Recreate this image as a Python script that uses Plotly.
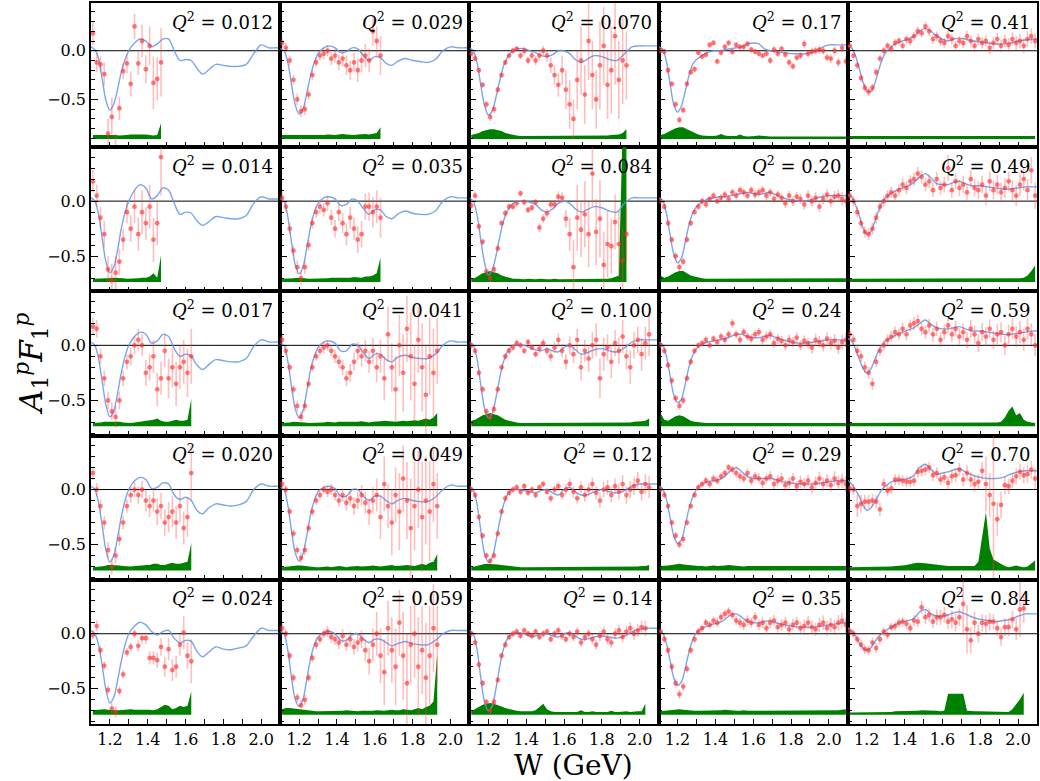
import plotly.graph_objects as go
from plotly.subplots import make_subplots

# ---------------- data ----------------
W_BINS = [1.11, 1.13, 1.15, 1.17, 1.19, 1.21, 1.23, 1.25, 1.27, 1.29,
          1.31, 1.33, 1.35, 1.37, 1.39, 1.41, 1.43, 1.45, 1.47, 1.49,
          1.51, 1.53, 1.55, 1.57, 1.59, 1.61, 1.63, 1.65, 1.67, 1.69,
          1.71, 1.73, 1.75, 1.77, 1.79, 1.81, 1.83, 1.85, 1.87, 1.89,
          1.91, 1.93, 1.95, 1.97, 1.99, 2.01, 2.03, 2.05, 2.07, 2.09]

CURVE_W = [1.10, 1.12, 1.14, 1.16, 1.18, 1.20, 1.22, 1.24, 1.26, 1.28,
           1.30, 1.33, 1.36, 1.39, 1.42, 1.45, 1.48, 1.51, 1.54, 1.57,
           1.60, 1.63, 1.66, 1.69, 1.72, 1.76, 1.80, 1.84, 1.88, 1.92,
           1.96, 2.00, 2.04, 2.08, 2.10]

# ---- Q2 = 0.012 ----
A_0012 = [0.18, -0.12, -0.14, -0.24, -0.85, -0.68, -1.05, -0.59, -0.21, -0.13, -0.34, 0.25, -0.13, 0.10, -0.19, 0.05, -0.33, -0.29, -0.12]
E_0012 = [0.12, 0.1, 0.08, 0.12, 0.15, 0.2, 0.2, 0.12, 0.08, 0.1, 0.13, 0.13, 0.12, 0.17, 0.14, 0.2, 0.27, 0.22, 0.35]
S_0012 = [0.04, 0.04, 0.04, 0.04, 0.045, 0.04, 0.04, 0.035, 0.035, 0.04, 0.045, 0.045, 0.05, 0.05, 0.045, 0.04, 0.035, 0.04, 0.16]
M_0012 = [0.04, 0.01, -0.08, -0.3, -0.52, -0.61, -0.55, -0.4, -0.22, -0.09, 0.0, 0.08, 0.12, 0.1, 0.04, 0.07, 0.12, 0.12, 0.0, -0.1, -0.09, -0.1, -0.18, -0.24, -0.2, -0.14, -0.15, -0.16, -0.16, -0.14, -0.03, 0.06, 0.03, 0.03, 0.03]

# ---- Q2 = 0.014 ----
A_0014 = [0.18, 0.05, -0.15, -0.3, -0.62, -0.72, -0.65, -0.55, -0.35, -0.1, -0.25, -0.05, -0.3, -0.1, -0.2, -0.05, -0.35, -0.2, 0.40]
E_0014 = [0.1, 0.1, 0.1, 0.12, 0.12, 0.15, 0.15, 0.12, 0.1, 0.1, 0.12, 0.15, 0.15, 0.2, 0.15, 0.2, 0.2, 0.2, 0.35]
S_0014 = [0.03, 0.03, 0.03, 0.035, 0.035, 0.04, 0.04, 0.04, 0.035, 0.03, 0.03, 0.035, 0.035, 0.04, 0.04, 0.05, 0.08, 0.04, 0.24]
M_0014 = [0.03, 0.0, -0.12, -0.35, -0.56, -0.65, -0.6, -0.45, -0.25, -0.1, 0.0, 0.1, 0.15, 0.12, 0.02, 0.05, 0.12, 0.1, -0.02, -0.12, -0.1, -0.11, -0.18, -0.22, -0.19, -0.14, -0.15, -0.16, -0.16, -0.13, -0.02, 0.04, 0.02, 0.02, 0.02]

# ---- Q2 = 0.017 ----
A_0017 = [0.17, 0.15, -0.1, -0.3, -0.5, -0.6, -0.65, -0.5, -0.3, -0.15, -0.1, 0.0, 0.05, 0.0, -0.25, -0.2, -0.1, -0.4, -0.3, -0.05, -0.3, -0.2, -0.35, -0.2, -0.15, -0.25, -0.1]
E_0017 = [0.08, 0.08, 0.07, 0.07, 0.08, 0.08, 0.1, 0.08, 0.07, 0.07, 0.08, 0.08, 0.1, 0.1, 0.12, 0.12, 0.15, 0.15, 0.15, 0.15, 0.18, 0.18, 0.2, 0.2, 0.2, 0.22, 0.25]
S_0017 = [0.03, 0.03, 0.035, 0.04, 0.04, 0.045, 0.045, 0.04, 0.035, 0.03, 0.03, 0.035, 0.04, 0.04, 0.045, 0.05, 0.06, 0.07, 0.05, 0.04, 0.04, 0.05, 0.06, 0.05, 0.05, 0.06, 0.25]
M_0017 = [0.03, 0.0, -0.12, -0.34, -0.55, -0.65, -0.6, -0.44, -0.25, -0.1, 0.0, 0.08, 0.12, 0.1, 0.02, 0.04, 0.1, 0.08, -0.03, -0.1, -0.08, -0.1, -0.18, -0.22, -0.18, -0.13, -0.14, -0.15, -0.15, -0.12, -0.01, 0.05, 0.03, 0.03, 0.03]

# ---- Q2 = 0.020 ----
A_0020 = [0.15, 0.0, -0.15, -0.3, -0.55, -0.7, -0.6, -0.45, -0.3, -0.15, -0.05, 0.0, -0.05, 0.0, -0.1, -0.15, -0.1, -0.2, -0.15, -0.3, -0.25, -0.2, -0.3, -0.15, -0.35, -0.25, 0.15]
E_0020 = [0.06, 0.06, 0.06, 0.06, 0.07, 0.07, 0.07, 0.06, 0.06, 0.06, 0.07, 0.07, 0.08, 0.08, 0.1, 0.1, 0.1, 0.12, 0.12, 0.12, 0.14, 0.14, 0.15, 0.15, 0.15, 0.18, 0.25]
S_0020 = [0.03, 0.03, 0.035, 0.04, 0.05, 0.05, 0.05, 0.045, 0.04, 0.035, 0.035, 0.04, 0.04, 0.045, 0.05, 0.05, 0.06, 0.06, 0.05, 0.05, 0.06, 0.07, 0.06, 0.06, 0.07, 0.08, 0.25]
M_0020 = [0.03, 0.0, -0.12, -0.34, -0.56, -0.66, -0.6, -0.44, -0.25, -0.1, 0.0, 0.08, 0.11, 0.09, 0.01, 0.02, 0.06, 0.05, -0.05, -0.09, -0.07, -0.1, -0.19, -0.22, -0.17, -0.13, -0.14, -0.15, -0.14, -0.11, 0.0, 0.05, 0.03, 0.03, 0.03]

# ---- Q2 = 0.024 ----
A_0024 = [-0.01, 0.07, -0.15, -0.29, -0.51, -0.68, -0.71, -0.52, -0.37, -0.17, -0.12, 0.0, -0.11, -0.04, -0.04, -0.22, -0.22, -0.24, -0.12, -0.30, -0.14, -0.33, -0.30, -0.10, 0.01, -0.20, -0.25]
E_0024 = [0.04, 0.05, 0.04, 0.04, 0.04, 0.05, 0.05, 0.04, 0.04, 0.04, 0.04, 0.04, 0.05, 0.05, 0.05, 0.06, 0.06, 0.07, 0.08, 0.09, 0.1, 0.1, 0.1, 0.1, 0.15, 0.12, 0.2]
S_0024 = [0.04, 0.045, 0.05, 0.05, 0.045, 0.04, 0.04, 0.04, 0.045, 0.05, 0.05, 0.045, 0.045, 0.05, 0.05, 0.045, 0.04, 0.05, 0.07, 0.09, 0.08, 0.05, 0.06, 0.08, 0.07, 0.08, 0.21]
M_0024 = [0.03, 0.0, -0.1, -0.3, -0.52, -0.63, -0.58, -0.43, -0.25, -0.1, 0.0, 0.07, 0.105, 0.08, 0.02, -0.01, 0.02, 0.03, -0.04, -0.085, -0.06, -0.07, -0.16, -0.21, -0.17, -0.12, -0.14, -0.145, -0.13, -0.11, -0.02, 0.05, 0.03, 0.03, 0.03]

# ---- Q2 = 0.029 ----
A_0029 = [0.08, 0.03, -0.1, -0.3, -0.5, -0.62, -0.6, -0.45, -0.25, -0.12, -0.05, -0.03, 0.0, -0.08, -0.05, -0.12, -0.08, -0.15, -0.2, -0.12, -0.2, -0.1, -0.05, -0.1, 0.2, 0.1, -0.05]
E_0029 = [0.05, 0.05, 0.05, 0.05, 0.06, 0.06, 0.06, 0.05, 0.05, 0.05, 0.05, 0.06, 0.06, 0.07, 0.07, 0.08, 0.08, 0.1, 0.1, 0.1, 0.12, 0.12, 0.12, 0.12, 0.15, 0.15, 0.2]
S_0029 = [0.04, 0.04, 0.035, 0.035, 0.04, 0.04, 0.04, 0.035, 0.035, 0.04, 0.04, 0.04, 0.045, 0.04, 0.04, 0.045, 0.05, 0.045, 0.04, 0.04, 0.045, 0.05, 0.05, 0.045, 0.05, 0.06, 0.12]
M_0029 = [0.02, 0.0, -0.12, -0.35, -0.56, -0.65, -0.6, -0.44, -0.26, -0.12, -0.03, 0.03, 0.05, 0.03, -0.02, -0.01, 0.03, 0.02, -0.05, -0.1, -0.06, -0.07, -0.13, -0.15, -0.11, -0.08, -0.1, -0.11, -0.12, -0.09, 0.0, 0.04, 0.03, 0.03, 0.03]

# ---- Q2 = 0.035 ----
A_0035 = [0.03, -0.05, -0.25, -0.45, -0.6, -0.7, -0.6, -0.4, -0.2, -0.1, -0.05, -0.08, -0.02, -0.15, -0.25, -0.1, -0.2, -0.3, -0.15, -0.25, -0.35, -0.3, -0.05, -0.05, -0.1, -0.05, -0.15]
E_0035 = [0.05, 0.05, 0.05, 0.05, 0.06, 0.06, 0.06, 0.05, 0.05, 0.05, 0.06, 0.06, 0.07, 0.07, 0.08, 0.08, 0.09, 0.1, 0.1, 0.1, 0.12, 0.12, 0.12, 0.13, 0.14, 0.15, 0.18]
S_0035 = [0.03, 0.03, 0.03, 0.035, 0.04, 0.04, 0.035, 0.03, 0.03, 0.03, 0.03, 0.035, 0.035, 0.04, 0.04, 0.04, 0.035, 0.035, 0.04, 0.045, 0.04, 0.04, 0.05, 0.05, 0.06, 0.08, 0.22]
M_0035 = [0.02, 0.0, -0.14, -0.38, -0.58, -0.66, -0.6, -0.43, -0.24, -0.1, -0.02, 0.03, 0.04, 0.02, -0.04, -0.03, 0.02, 0.0, -0.07, -0.12, -0.08, -0.08, -0.14, -0.16, -0.12, -0.09, -0.11, -0.12, -0.12, -0.09, 0.0, 0.04, 0.03, 0.03, 0.03]

# ---- Q2 = 0.041 ----
A_0041 = [0.05, -0.05, -0.2, -0.4, -0.55, -0.65, -0.55, -0.35, -0.2, -0.1, -0.05, -0.02, 0.0, -0.05, -0.1, -0.15, -0.2, -0.3, -0.25, -0.15, -0.05, -0.1, -0.05, -0.15, -0.05, -0.2, -0.1, -0.3, 0.1, -0.2, -0.4, 0.0, -0.25, 0.15, -0.1, -0.35, 0.05, -0.2, -0.45, -0.1, -0.25, -0.05]
E_0041 = [0.04, 0.04, 0.04, 0.04, 0.05, 0.05, 0.05, 0.04, 0.04, 0.04, 0.04, 0.05, 0.05, 0.05, 0.06, 0.06, 0.07, 0.07, 0.08, 0.08, 0.08, 0.09, 0.1, 0.1, 0.12, 0.14, 0.15, 0.2, 0.25, 0.22, 0.3, 0.28, 0.35, 0.3, 0.4, 0.35, 0.3, 0.4, 0.45, 0.35, 0.4, 0.3]
S_0041 = [0.03, 0.03, 0.035, 0.04, 0.04, 0.04, 0.035, 0.03, 0.03, 0.03, 0.035, 0.035, 0.04, 0.035, 0.035, 0.04, 0.04, 0.035, 0.035, 0.04, 0.04, 0.045, 0.04, 0.035, 0.04, 0.04, 0.045, 0.05, 0.045, 0.04, 0.04, 0.045, 0.05, 0.045, 0.05, 0.055, 0.05, 0.06, 0.07, 0.06, 0.08, 0.12]
M_0041 = [0.02, 0.0, -0.14, -0.38, -0.58, -0.66, -0.6, -0.42, -0.23, -0.1, -0.02, 0.03, 0.04, 0.02, -0.05, -0.05, 0.01, 0.0, -0.07, -0.12, -0.08, -0.08, -0.13, -0.15, -0.11, -0.09, -0.11, -0.12, -0.12, -0.08, 0.0, 0.04, 0.03, 0.03, 0.03]

# ---- Q2 = 0.049 ----
A_0049 = [0.05, 0.0, -0.2, -0.4, -0.55, -0.62, -0.55, -0.35, -0.2, -0.1, -0.05, 0.0, -0.02, 0.0, -0.05, -0.1, -0.05, -0.12, -0.08, -0.15, -0.1, -0.05, -0.12, -0.2, -0.1, -0.05, -0.25, 0.05, -0.15, -0.3, -0.05, -0.2, 0.1, -0.1, -0.35, -0.15, 0.0, -0.25, -0.1, -0.2, 0.05, -0.15]
E_0049 = [0.04, 0.04, 0.04, 0.04, 0.04, 0.05, 0.05, 0.04, 0.04, 0.04, 0.04, 0.04, 0.05, 0.05, 0.05, 0.06, 0.06, 0.07, 0.07, 0.08, 0.08, 0.09, 0.1, 0.12, 0.12, 0.15, 0.2, 0.25, 0.2, 0.3, 0.25, 0.35, 0.3, 0.35, 0.45, 0.4, 0.35, 0.5, 0.4, 0.45, 0.35, 0.3]
S_0049 = [0.03, 0.035, 0.04, 0.04, 0.045, 0.045, 0.04, 0.035, 0.03, 0.03, 0.03, 0.035, 0.035, 0.03, 0.035, 0.04, 0.035, 0.03, 0.035, 0.04, 0.04, 0.035, 0.035, 0.04, 0.045, 0.04, 0.035, 0.04, 0.045, 0.05, 0.04, 0.04, 0.045, 0.05, 0.045, 0.04, 0.05, 0.06, 0.05, 0.07, 0.08, 0.15]
M_0049 = [0.02, 0.0, -0.14, -0.38, -0.58, -0.65, -0.59, -0.42, -0.23, -0.1, -0.02, 0.02, 0.03, 0.01, -0.06, -0.06, 0.0, 0.0, -0.06, -0.1, -0.06, -0.06, -0.1, -0.13, -0.1, -0.08, -0.1, -0.11, -0.11, -0.07, 0.0, 0.04, 0.03, 0.03, 0.03]

# ---- Q2 = 0.059 ----
A_0059 = [0.05, 0.0, -0.2, -0.4, -0.58, -0.65, -0.6, -0.4, -0.22, -0.1, -0.05, 0.0, 0.02, -0.03, -0.05, -0.08, -0.02, -0.1, -0.05, -0.12, -0.08, -0.05, -0.15, -0.25, -0.1, 0.0, -0.2, -0.35, 0.05, -0.15, -0.3, 0.1, -0.2, -0.45, -0.1, 0.0, -0.3, -0.15, -0.4, -0.2, 0.05, -0.1]
E_0059 = [0.04, 0.04, 0.04, 0.04, 0.04, 0.05, 0.05, 0.04, 0.04, 0.04, 0.04, 0.04, 0.05, 0.05, 0.05, 0.06, 0.06, 0.06, 0.07, 0.07, 0.08, 0.08, 0.1, 0.12, 0.15, 0.2, 0.25, 0.3, 0.25, 0.3, 0.35, 0.3, 0.4, 0.45, 0.35, 0.4, 0.45, 0.4, 0.5, 0.45, 0.4, 0.35]
S_0059 = [0.05, 0.06, 0.06, 0.055, 0.05, 0.045, 0.04, 0.035, 0.03, 0.03, 0.03, 0.03, 0.035, 0.035, 0.03, 0.03, 0.035, 0.04, 0.035, 0.03, 0.03, 0.035, 0.035, 0.03, 0.035, 0.04, 0.035, 0.035, 0.04, 0.045, 0.04, 0.04, 0.05, 0.045, 0.04, 0.05, 0.06, 0.05, 0.07, 0.08, 0.12, 0.55]
M_0059 = [0.02, 0.0, -0.15, -0.4, -0.6, -0.66, -0.6, -0.42, -0.23, -0.1, -0.03, 0.01, 0.02, 0.0, -0.06, -0.06, -0.01, 0.0, -0.05, -0.08, -0.05, -0.05, -0.08, -0.11, -0.09, -0.07, -0.09, -0.1, -0.1, -0.06, 0.0, 0.03, 0.03, 0.03, 0.03]

# ---- Q2 = 0.070 ----
A_0070 = [-0.03, -0.08, -0.2, -0.35, -0.55, -0.68, -0.6, -0.4, -0.25, -0.12, -0.05, 0.0, 0.02, -0.05, 0.0, -0.1, -0.05, -0.1, -0.05, 0.0, -0.05, -0.15, -0.25, -0.35, -0.2, -0.4, -0.55, -0.7, -0.3, -0.1, -0.45, 0.1, -0.25, -0.5, -0.15, 0.05, -0.35, -0.2, 0.15, -0.3, -0.1, -0.15]
E_0070 = [0.03, 0.03, 0.03, 0.03, 0.04, 0.04, 0.04, 0.03, 0.03, 0.03, 0.03, 0.03, 0.03, 0.04, 0.04, 0.04, 0.04, 0.05, 0.05, 0.05, 0.06, 0.08, 0.1, 0.12, 0.15, 0.2, 0.25, 0.2, 0.3, 0.35, 0.3, 0.4, 0.35, 0.3, 0.45, 0.4, 0.35, 0.45, 0.5, 0.4, 0.45, 0.35]
S_0070 = [0.04, 0.05, 0.06, 0.08, 0.09, 0.1, 0.1, 0.09, 0.08, 0.06, 0.05, 0.04, 0.035, 0.03, 0.03, 0.03, 0.03, 0.035, 0.03, 0.03, 0.03, 0.03, 0.035, 0.03, 0.03, 0.03, 0.03, 0.03, 0.035, 0.03, 0.03, 0.03, 0.035, 0.03, 0.03, 0.03, 0.035, 0.04, 0.04, 0.045, 0.06, 0.1]
M_0070 = [0.03, 0.0, -0.12, -0.35, -0.56, -0.66, -0.62, -0.48, -0.31, -0.16, -0.07, 0.0, 0.02, 0.02, 0.0, -0.02, -0.05, -0.06, -0.04, 0.0, 0.0, -0.03, -0.09, -0.12, -0.09, -0.05, -0.06, -0.09, -0.1, -0.03, 0.04, 0.05, 0.05, 0.05, 0.05]

# ---- Q2 = 0.084 ----
A_0084 = [-0.04, 0.05, -0.23, -0.37, -0.64, -0.70, -0.62, -0.43, -0.20, -0.11, -0.05, -0.05, -0.02, 0.07, -0.01, -0.08, -0.06, -0.01, -0.24, -0.16, -0.11, -0.03, -0.03, 0.04, 0.03, -0.16, -0.3, -0.60, -0.15, -0.26, -0.12, -0.30, 0.25, -0.28, -0.16, -0.58, -0.39, -0.41, -0.19, -0.39, -0.54, -0.3]
E_0084 = [0.03, 0.03, 0.03, 0.03, 0.03, 0.04, 0.04, 0.03, 0.03, 0.03, 0.03, 0.03, 0.03, 0.03, 0.03, 0.03, 0.03, 0.03, 0.04, 0.04, 0.04, 0.04, 0.04, 0.05, 0.05, 0.08, 0.15, 0.25, 0.3, 0.25, 0.3, 0.3, 0.3, 0.3, 0.35, 0.3, 0.3, 0.25, 0.25, 0.3, 0.3, 0.25]
S_0084 = [0.03, 0.04, 0.06, 0.08, 0.09, 0.1, 0.09, 0.08, 0.06, 0.05, 0.04, 0.03, 0.03, 0.025, 0.025, 0.03, 0.025, 0.025, 0.03, 0.025, 0.025, 0.025, 0.03, 0.025, 0.025, 0.025, 0.03, 0.025, 0.025, 0.025, 0.03, 0.025, 0.025, 0.025, 0.025, 0.03, 0.03, 0.035, 0.05, 0.06, 1.4, 1.4]
M_0084 = [0.03, 0.0, -0.12, -0.35, -0.56, -0.67, -0.63, -0.5, -0.33, -0.18, -0.09, -0.02, 0.0, 0.0, -0.01, -0.03, -0.08, -0.1, -0.07, -0.02, 0.0, -0.02, -0.07, -0.1, -0.08, -0.05, -0.06, -0.09, -0.1, -0.02, 0.03, 0.03, 0.03, 0.03, 0.03]

# ---- Q2 = 0.100 ----
A_0100 = [0.0, -0.05, -0.25, -0.4, -0.6, -0.65, -0.58, -0.4, -0.2, -0.1, -0.05, -0.02, 0.02, 0.0, -0.05, 0.03, -0.02, -0.08, -0.03, 0.02, -0.05, -0.1, -0.02, 0.05, -0.05, -0.15, 0.0, -0.08, 0.05, -0.2, -0.05, -0.12, 0.0, 0.05, -0.3, -0.08, -0.02, -0.15, 0.02, -0.05, 0.08, -0.1, -0.2, 0.0, 0.05, -0.08, 0.02, 0.1]
E_0100 = [0.03, 0.03, 0.03, 0.03, 0.03, 0.04, 0.04, 0.03, 0.03, 0.03, 0.03, 0.03, 0.03, 0.03, 0.03, 0.03, 0.03, 0.03, 0.04, 0.04, 0.04, 0.05, 0.05, 0.06, 0.06, 0.07, 0.08, 0.08, 0.1, 0.12, 0.1, 0.12, 0.12, 0.15, 0.18, 0.15, 0.12, 0.15, 0.12, 0.12, 0.15, 0.12, 0.15, 0.12, 0.12, 0.15, 0.15, 0.2]
S_0100 = [0.05, 0.06, 0.08, 0.1, 0.11, 0.12, 0.11, 0.1, 0.08, 0.06, 0.05, 0.04, 0.035, 0.03, 0.03, 0.03, 0.03, 0.03, 0.035, 0.03, 0.03, 0.03, 0.03, 0.035, 0.03, 0.03, 0.03, 0.03, 0.03, 0.035, 0.03, 0.03, 0.03, 0.03, 0.035, 0.03, 0.03, 0.03, 0.035, 0.03, 0.03, 0.03, 0.035, 0.04, 0.04, 0.045, 0.05, 0.07]
M_0100 = [0.03, 0.0, -0.12, -0.36, -0.57, -0.66, -0.62, -0.48, -0.3, -0.15, -0.06, 0.0, 0.0, 0.0, -0.02, -0.04, -0.05, -0.03, -0.05, -0.06, -0.02, 0.0, -0.04, -0.08, -0.07, -0.04, -0.03, -0.05, -0.06, -0.02, 0.03, 0.05, 0.05, 0.05, 0.05]

# ---- Q2 = 0.12 ----
A_012 = [0.0, -0.05, -0.25, -0.42, -0.6, -0.65, -0.6, -0.4, -0.2, -0.08, -0.03, 0.0, 0.02, -0.02, 0.03, -0.03, 0.0, -0.05, 0.02, 0.05, -0.02, -0.08, 0.0, 0.03, -0.05, 0.0, 0.05, -0.02, -0.08, 0.02, -0.05, 0.0, 0.05, -0.03, -0.1, 0.0, 0.02, -0.05, 0.03, -0.02, 0.05, -0.05, 0.0, 0.03, 0.08, -0.02, 0.05, 0.02]
E_012 = [0.03, 0.03, 0.03, 0.03, 0.03, 0.03, 0.03, 0.03, 0.03, 0.03, 0.03, 0.03, 0.03, 0.03, 0.03, 0.03, 0.03, 0.03, 0.03, 0.03, 0.03, 0.04, 0.04, 0.04, 0.04, 0.05, 0.05, 0.05, 0.05, 0.05, 0.06, 0.06, 0.06, 0.06, 0.07, 0.07, 0.07, 0.07, 0.07, 0.07, 0.08, 0.08, 0.08, 0.08, 0.08, 0.08, 0.09, 0.1]
S_012 = [0.03, 0.04, 0.05, 0.055, 0.06, 0.06, 0.06, 0.055, 0.05, 0.045, 0.04, 0.035, 0.03, 0.03, 0.03, 0.03, 0.03, 0.03, 0.03, 0.03, 0.03, 0.035, 0.03, 0.03, 0.03, 0.03, 0.03, 0.03, 0.03, 0.03, 0.035, 0.03, 0.03, 0.03, 0.03, 0.03, 0.03, 0.035, 0.03, 0.03, 0.03, 0.03, 0.03, 0.035, 0.035, 0.04, 0.04, 0.05]
M_012 = [0.03, 0.0, -0.13, -0.37, -0.58, -0.66, -0.62, -0.47, -0.29, -0.14, -0.05, 0.0, 0.0, -0.01, -0.02, -0.03, -0.01, 0.0, -0.03, -0.05, 0.0, 0.02, -0.02, -0.05, -0.05, -0.02, 0.0, -0.02, -0.03, -0.01, 0.03, 0.05, 0.05, 0.05, 0.05]

# ---- Q2 = 0.14 ----
A_014 = [0.0, -0.08, -0.28, -0.45, -0.62, -0.7, -0.62, -0.42, -0.2, -0.1, -0.03, 0.0, 0.02, -0.02, 0.03, 0.0, -0.02, 0.02, -0.03, 0.0, 0.02, -0.05, 0.0, 0.03, -0.02, -0.05, 0.0, -0.03, 0.02, -0.08, -0.03, 0.0, -0.05, -0.1, -0.02, 0.02, -0.05, -0.08, 0.0, 0.03, -0.03, 0.02, 0.05, 0.0, 0.03, 0.06, 0.05]
E_014 = [0.03, 0.03, 0.03, 0.03, 0.03, 0.035, 0.035, 0.03, 0.03, 0.03, 0.03, 0.03, 0.03, 0.03, 0.03, 0.03, 0.03, 0.03, 0.03, 0.03, 0.03, 0.03, 0.03, 0.035, 0.035, 0.035, 0.035, 0.04, 0.04, 0.04, 0.04, 0.04, 0.045, 0.045, 0.045, 0.045, 0.05, 0.05, 0.05, 0.05, 0.05, 0.05, 0.055, 0.055, 0.06, 0.06, 0.07]
S_014 = [0.03, 0.05, 0.07, 0.09, 0.1, 0.105, 0.1, 0.09, 0.075, 0.06, 0.05, 0.04, 0.035, 0.03, 0.03, 0.03, 0.03, 0.04, 0.07, 0.1, 0.05, 0.03, 0.025, 0.025, 0.03, 0.025, 0.025, 0.03, 0.025, 0.04, 0.025, 0.025, 0.03, 0.025, 0.025, 0.03, 0.025, 0.035, 0.025, 0.025, 0.03, 0.03, 0.025, 0.03, 0.03, 0.03, 0.1]
M_014 = [0.03, 0.0, -0.14, -0.4, -0.62, -0.7, -0.66, -0.5, -0.3, -0.14, -0.05, 0.0, 0.01, 0.0, -0.02, -0.02, 0.0, 0.0, -0.02, -0.03, 0.0, 0.01, -0.02, -0.05, -0.05, -0.03, -0.02, -0.03, -0.04, -0.02, 0.02, 0.04, 0.05, 0.05, 0.05]

# ---- Q2 = 0.17 ----
A_017 = [0.00, -0.01, -0.20, -0.34, -0.55, -0.71, -0.61, -0.34, -0.22, -0.19, -0.02, -0.06, -0.04, 0.06, 0.08, -0.11, -0.02, 0.04, 0.08, -0.01, 0.06, 0.04, 0.04, 0.07, 0.01, -0.01, -0.03, -0.05, -0.03, -0.10, 0.01, -0.03, 0.02, -0.04, -0.12, -0.16, -0.07, -0.05, 0.07, -0.03, -0.01, 0.00, 0.01, 0.00, -0.07, -0.08, 0.00, -0.12, 0.03, -0.11]
E_017 = [0.03, 0.03, 0.03, 0.03, 0.035, 0.035, 0.035, 0.03, 0.03, 0.03, 0.03, 0.03, 0.03, 0.03, 0.03, 0.03, 0.03, 0.03, 0.03, 0.03, 0.03, 0.03, 0.03, 0.03, 0.03, 0.03, 0.03, 0.03, 0.03, 0.035, 0.035, 0.035, 0.035, 0.035, 0.035, 0.035, 0.035, 0.035, 0.04, 0.04, 0.04, 0.04, 0.04, 0.04, 0.04, 0.045, 0.045, 0.045, 0.045, 0.05]
S_017 = [0.04, 0.05, 0.07, 0.09, 0.11, 0.12, 0.12, 0.1, 0.08, 0.06, 0.045, 0.035, 0.03, 0.03, 0.03, 0.035, 0.05, 0.035, 0.03, 0.03, 0.03, 0.045, 0.03, 0.025, 0.025, 0.03, 0.035, 0.03, 0.025, 0.025, 0.025, 0.025, 0.025, 0.025, 0.025, 0.025, 0.025, 0.025, 0.025, 0.03, 0.025, 0.025, 0.025, 0.025, 0.03, 0.025, 0.025, 0.025, 0.025, 0.025]
M_017 = [0.04, 0.02, -0.1, -0.33, -0.55, -0.63, -0.57, -0.42, -0.26, -0.14, -0.09, -0.05, -0.02, 0.0, 0.0, 0.01, 0.02, 0.03, 0.04, 0.07, 0.08, 0.07, 0.02, 0.0, -0.01, -0.02, -0.03, -0.03, -0.03, -0.01, 0.03, 0.06, 0.06, 0.06, 0.06]

# ---- Q2 = 0.20 ----
A_020 = [0.0, -0.05, -0.2, -0.35, -0.5, -0.6, -0.55, -0.35, -0.2, -0.1, -0.05, 0.0, -0.03, 0.02, 0.05, 0.0, 0.03, 0.06, 0.02, 0.08, 0.05, 0.1, 0.08, 0.05, 0.1, 0.06, 0.08, 0.1, 0.05, 0.08, 0.02, 0.06, 0.03, -0.02, 0.05, 0.0, 0.04, 0.02, -0.03, 0.05, 0.0, 0.03, -0.05, 0.02, 0.06, 0.0, 0.04, 0.05, 0.02, 0.0]
E_020 = [0.03, 0.03, 0.03, 0.03, 0.035, 0.035, 0.035, 0.03, 0.03, 0.03, 0.03, 0.03, 0.03, 0.03, 0.03, 0.03, 0.035, 0.035, 0.035, 0.035, 0.035, 0.035, 0.035, 0.035, 0.035, 0.04, 0.04, 0.04, 0.04, 0.04, 0.04, 0.04, 0.04, 0.045, 0.045, 0.045, 0.045, 0.045, 0.045, 0.05, 0.05, 0.05, 0.05, 0.05, 0.05, 0.055, 0.055, 0.055, 0.06, 0.06]
S_020 = [0.06, 0.04, 0.05, 0.07, 0.09, 0.1, 0.1, 0.08, 0.06, 0.05, 0.04, 0.035, 0.03, 0.03, 0.03, 0.03, 0.03, 0.035, 0.03, 0.03, 0.03, 0.03, 0.03, 0.03, 0.03, 0.03, 0.03, 0.03, 0.03, 0.03, 0.03, 0.03, 0.03, 0.03, 0.03, 0.03, 0.03, 0.03, 0.03, 0.03, 0.03, 0.03, 0.03, 0.03, 0.03, 0.03, 0.03, 0.03, 0.03, 0.035]
M_020 = [0.03, 0.01, -0.1, -0.3, -0.48, -0.56, -0.52, -0.38, -0.22, -0.11, -0.05, -0.01, 0.02, 0.03, 0.04, 0.04, 0.05, 0.06, 0.07, 0.08, 0.07, 0.06, 0.07, 0.08, 0.06, 0.03, 0.01, 0.0, 0.0, 0.02, 0.04, 0.05, 0.05, 0.05, 0.05]

# ---- Q2 = 0.24 ----
A_024 = [0.0, -0.05, -0.18, -0.32, -0.48, -0.55, -0.5, -0.3, -0.15, -0.05, 0.0, 0.02, 0.05, 0.0, 0.06, 0.03, 0.08, 0.05, 0.1, 0.2, 0.1, 0.05, 0.12, 0.08, 0.06, 0.1, 0.12, 0.05, 0.08, 0.1, 0.02, 0.06, 0.04, 0.0, 0.05, 0.03, 0.07, 0.0, 0.04, 0.02, -0.02, 0.05, 0.03, 0.0, 0.06, 0.02, 0.04, -0.02, 0.03, 0.05]
E_024 = [0.03, 0.03, 0.03, 0.03, 0.035, 0.035, 0.035, 0.03, 0.03, 0.03, 0.03, 0.03, 0.03, 0.03, 0.03, 0.035, 0.035, 0.035, 0.035, 0.04, 0.04, 0.04, 0.04, 0.04, 0.04, 0.04, 0.04, 0.045, 0.045, 0.045, 0.045, 0.045, 0.045, 0.05, 0.05, 0.05, 0.05, 0.05, 0.05, 0.05, 0.055, 0.055, 0.055, 0.055, 0.06, 0.06, 0.06, 0.06, 0.065, 0.065]
S_024 = [0.12, 0.06, 0.05, 0.07, 0.09, 0.1, 0.09, 0.07, 0.05, 0.04, 0.035, 0.03, 0.03, 0.03, 0.03, 0.03, 0.03, 0.03, 0.03, 0.03, 0.03, 0.03, 0.03, 0.03, 0.03, 0.03, 0.03, 0.03, 0.03, 0.03, 0.03, 0.03, 0.03, 0.03, 0.03, 0.03, 0.03, 0.03, 0.03, 0.03, 0.03, 0.03, 0.03, 0.03, 0.03, 0.03, 0.03, 0.03, 0.03, 0.03]
M_024 = [0.03, 0.01, -0.09, -0.27, -0.45, -0.52, -0.49, -0.36, -0.2, -0.09, -0.03, 0.01, 0.03, 0.04, 0.05, 0.06, 0.08, 0.1, 0.1, 0.08, 0.07, 0.07, 0.08, 0.09, 0.07, 0.05, 0.03, 0.02, 0.02, 0.03, 0.04, 0.05, 0.05, 0.05, 0.05]

# ---- Q2 = 0.29 ----
A_029 = [0.0, -0.05, -0.15, -0.3, -0.42, -0.5, -0.45, -0.3, -0.15, -0.05, 0.02, 0.05, 0.08, 0.05, 0.1, 0.08, 0.12, 0.15, 0.2, 0.18, 0.15, 0.12, 0.1, 0.15, 0.08, 0.12, 0.1, 0.06, 0.1, 0.12, 0.05, 0.08, 0.1, 0.04, 0.06, 0.1, 0.03, 0.07, 0.05, 0.08, 0.02, 0.06, 0.1, 0.05, 0.08, 0.04, 0.1, 0.06, 0.08, 0.05]
E_029 = [0.03, 0.03, 0.03, 0.03, 0.035, 0.035, 0.035, 0.03, 0.03, 0.03, 0.03, 0.03, 0.035, 0.035, 0.035, 0.035, 0.035, 0.035, 0.035, 0.035, 0.04, 0.04, 0.04, 0.04, 0.04, 0.04, 0.045, 0.045, 0.045, 0.045, 0.045, 0.05, 0.05, 0.05, 0.05, 0.05, 0.05, 0.055, 0.055, 0.055, 0.055, 0.06, 0.06, 0.06, 0.06, 0.06, 0.065, 0.065, 0.065, 0.07]
S_029 = [0.04, 0.04, 0.045, 0.05, 0.055, 0.06, 0.055, 0.05, 0.045, 0.04, 0.04, 0.04, 0.035, 0.04, 0.045, 0.04, 0.04, 0.045, 0.05, 0.045, 0.04, 0.04, 0.035, 0.04, 0.04, 0.035, 0.04, 0.04, 0.035, 0.035, 0.04, 0.035, 0.035, 0.04, 0.035, 0.035, 0.04, 0.035, 0.035, 0.04, 0.035, 0.035, 0.04, 0.035, 0.035, 0.04, 0.035, 0.04, 0.04, 0.04]
M_029 = [0.03, 0.01, -0.08, -0.25, -0.42, -0.49, -0.46, -0.33, -0.18, -0.07, 0.0, 0.05, 0.07, 0.08, 0.09, 0.12, 0.17, 0.2, 0.16, 0.12, 0.1, 0.1, 0.1, 0.1, 0.09, 0.07, 0.06, 0.05, 0.05, 0.05, 0.06, 0.07, 0.08, 0.08, 0.08]

# ---- Q2 = 0.35 ----
A_035 = [0.02, -0.05, -0.15, -0.3, -0.45, -0.55, -0.48, -0.32, -0.15, -0.05, 0.02, 0.05, 0.1, 0.08, 0.12, 0.1, 0.15, 0.18, 0.2, 0.17, 0.12, 0.1, 0.08, 0.12, 0.1, 0.15, 0.08, 0.1, 0.05, 0.1, 0.12, 0.06, 0.08, 0.1, 0.04, 0.08, 0.1, 0.05, 0.07, 0.1, 0.06, 0.04, 0.08, 0.1, 0.05, 0.08, 0.06, 0.1, 0.12, 0.08]
E_035 = [0.035, 0.035, 0.035, 0.035, 0.04, 0.04, 0.04, 0.035, 0.035, 0.035, 0.035, 0.035, 0.035, 0.035, 0.04, 0.04, 0.04, 0.04, 0.04, 0.04, 0.04, 0.045, 0.045, 0.045, 0.045, 0.045, 0.05, 0.05, 0.05, 0.05, 0.05, 0.05, 0.055, 0.055, 0.055, 0.055, 0.055, 0.06, 0.06, 0.06, 0.06, 0.06, 0.065, 0.065, 0.065, 0.065, 0.07, 0.07, 0.07, 0.07]
S_035 = [0.03, 0.035, 0.04, 0.045, 0.045, 0.05, 0.045, 0.04, 0.04, 0.035, 0.035, 0.035, 0.04, 0.035, 0.035, 0.04, 0.04, 0.045, 0.04, 0.035, 0.035, 0.035, 0.04, 0.035, 0.035, 0.04, 0.035, 0.035, 0.04, 0.035, 0.035, 0.04, 0.035, 0.035, 0.04, 0.035, 0.035, 0.04, 0.035, 0.035, 0.04, 0.035, 0.035, 0.04, 0.035, 0.035, 0.04, 0.04, 0.045, 0.05]
M_035 = [0.03, 0.01, -0.08, -0.24, -0.4, -0.47, -0.44, -0.32, -0.17, -0.06, 0.01, 0.05, 0.07, 0.09, 0.1, 0.13, 0.17, 0.18, 0.15, 0.11, 0.1, 0.1, 0.11, 0.12, 0.1, 0.08, 0.07, 0.06, 0.06, 0.06, 0.07, 0.08, 0.09, 0.1, 0.1]

# ---- Q2 = 0.41 ----
A_041 = [0.05, -0.05, -0.15, -0.28, -0.38, -0.42, -0.38, -0.22, -0.08, 0.0, 0.05, 0.02, 0.08, 0.1, 0.05, 0.12, 0.1, 0.15, 0.2, 0.18, 0.25, 0.2, 0.12, 0.15, 0.1, 0.08, 0.15, 0.12, 0.05, 0.1, 0.08, 0.15, 0.1, 0.05, 0.12, 0.08, 0.1, 0.03, 0.08, 0.12, 0.05, 0.1, 0.06, 0.12, 0.08, 0.1, 0.05, 0.12, 0.15, 0.1]
E_041 = [0.04, 0.04, 0.04, 0.04, 0.045, 0.045, 0.045, 0.04, 0.04, 0.04, 0.04, 0.04, 0.04, 0.04, 0.04, 0.045, 0.045, 0.045, 0.045, 0.045, 0.05, 0.05, 0.05, 0.05, 0.05, 0.05, 0.05, 0.055, 0.055, 0.055, 0.055, 0.055, 0.06, 0.06, 0.06, 0.06, 0.06, 0.065, 0.065, 0.065, 0.065, 0.07, 0.07, 0.07, 0.07, 0.075, 0.075, 0.08, 0.08, 0.08]
S_041 = [0.03, 0.03, 0.03, 0.035, 0.035, 0.035, 0.035, 0.03, 0.03, 0.03, 0.03, 0.03, 0.03, 0.03, 0.03, 0.03, 0.03, 0.03, 0.03, 0.03, 0.03, 0.03, 0.03, 0.03, 0.03, 0.03, 0.03, 0.03, 0.03, 0.03, 0.03, 0.03, 0.03, 0.03, 0.03, 0.03, 0.03, 0.03, 0.03, 0.03, 0.03, 0.03, 0.03, 0.03, 0.03, 0.03, 0.03, 0.03, 0.03, 0.03]
M_041 = [0.05, 0.03, -0.05, -0.18, -0.32, -0.41, -0.42, -0.35, -0.22, -0.1, -0.02, 0.04, 0.08, 0.1, 0.12, 0.15, 0.2, 0.23, 0.2, 0.15, 0.12, 0.1, 0.12, 0.13, 0.12, 0.1, 0.09, 0.08, 0.07, 0.07, 0.08, 0.1, 0.11, 0.12, 0.12]

# ---- Q2 = 0.49 ----
A_049 = [0.05, 0.0, -0.1, -0.2, -0.28, -0.3, -0.25, -0.15, -0.05, 0.0, 0.05, 0.08, 0.05, 0.1, 0.15, 0.12, 0.18, 0.2, 0.25, 0.22, 0.15, 0.18, 0.1, 0.2, 0.12, 0.15, 0.3, 0.1, 0.18, 0.12, 0.15, 0.08, 0.2, 0.12, 0.1, 0.15, 0.05, 0.18, 0.1, 0.15, 0.08, 0.12, 0.18, 0.1, 0.05, 0.15, 0.2, 0.1, 0.28, 0.05]
E_049 = [0.05, 0.05, 0.05, 0.05, 0.05, 0.055, 0.055, 0.05, 0.05, 0.05, 0.05, 0.05, 0.05, 0.05, 0.055, 0.055, 0.055, 0.06, 0.06, 0.06, 0.06, 0.06, 0.065, 0.065, 0.065, 0.07, 0.12, 0.07, 0.07, 0.075, 0.075, 0.075, 0.08, 0.08, 0.08, 0.08, 0.085, 0.085, 0.085, 0.09, 0.09, 0.09, 0.09, 0.095, 0.095, 0.1, 0.1, 0.1, 0.12, 0.12]
S_049 = [0.03, 0.03, 0.03, 0.03, 0.03, 0.03, 0.03, 0.03, 0.03, 0.03, 0.03, 0.03, 0.03, 0.03, 0.03, 0.03, 0.03, 0.03, 0.03, 0.03, 0.03, 0.03, 0.03, 0.03, 0.03, 0.03, 0.03, 0.03, 0.03, 0.03, 0.03, 0.03, 0.03, 0.03, 0.03, 0.03, 0.03, 0.03, 0.03, 0.03, 0.03, 0.03, 0.03, 0.03, 0.03, 0.035, 0.04, 0.06, 0.1, 0.15]
M_049 = [0.06, 0.04, -0.03, -0.13, -0.24, -0.3, -0.28, -0.2, -0.1, -0.02, 0.03, 0.07, 0.1, 0.12, 0.14, 0.17, 0.22, 0.25, 0.21, 0.16, 0.15, 0.15, 0.17, 0.18, 0.16, 0.14, 0.14, 0.13, 0.12, 0.11, 0.11, 0.12, 0.13, 0.13, 0.13]

# ---- Q2 = 0.59 ----
A_059 = [0.1, 0.05, -0.05, -0.1, -0.2, -0.25, -0.35, -0.15, -0.05, 0.0, 0.05, 0.08, 0.12, 0.1, 0.15, 0.1, 0.18, 0.2, 0.22, 0.15, 0.12, 0.18, 0.1, 0.15, 0.05, 0.12, 0.18, 0.1, 0.15, 0.08, 0.12, 0.05, 0.15, 0.1, 0.02, 0.12, 0.08, 0.15, 0.05, 0.1, 0.12, 0.0, 0.1, 0.15, 0.08, 0.12, 0.05, 0.15, 0.1, 0.0]
E_059 = [0.05, 0.05, 0.05, 0.05, 0.05, 0.055, 0.055, 0.05, 0.05, 0.05, 0.05, 0.05, 0.05, 0.05, 0.055, 0.055, 0.055, 0.06, 0.06, 0.06, 0.06, 0.06, 0.065, 0.065, 0.065, 0.07, 0.07, 0.07, 0.07, 0.075, 0.075, 0.075, 0.08, 0.08, 0.08, 0.08, 0.085, 0.085, 0.085, 0.09, 0.09, 0.09, 0.09, 0.095, 0.095, 0.1, 0.1, 0.1, 0.1, 0.1]
S_059 = [0.03, 0.03, 0.03, 0.03, 0.03, 0.03, 0.03, 0.03, 0.03, 0.03, 0.03, 0.03, 0.03, 0.03, 0.03, 0.03, 0.03, 0.03, 0.03, 0.03, 0.03, 0.03, 0.03, 0.03, 0.03, 0.03, 0.03, 0.03, 0.03, 0.03, 0.03, 0.03, 0.03, 0.03, 0.03, 0.03, 0.03, 0.03, 0.03, 0.035, 0.04, 0.08, 0.14, 0.18, 0.1, 0.12, 0.06, 0.04, 0.035, 0.03]
M_059 = [0.06, 0.04, -0.03, -0.12, -0.21, -0.25, -0.22, -0.14, -0.06, 0.0, 0.04, 0.07, 0.1, 0.12, 0.14, 0.16, 0.2, 0.23, 0.19, 0.16, 0.15, 0.15, 0.16, 0.17, 0.15, 0.13, 0.13, 0.12, 0.11, 0.1, 0.1, 0.11, 0.12, 0.13, 0.13]

# ---- Q2 = 0.70 ----
A_070 = [0.01, 0.0, -0.15, -0.13, -0.11, -0.11, -0.1, -0.11, -0.18, 0.05, -0.01, 0.01, 0.09, 0.09, 0.08, 0.07, 0.07, 0.08, 0.16, 0.17, 0.18, 0.2, 0.13, 0.15, 0.09, 0.11, 0.06, 0.12, 0.13, 0.18, 0.09, 0.15, 0.09, 0.05, 0.07, 0.17, 0.05, -0.05, -0.13, -0.27, -0.14, 0.04, 0.03, 0.08, 0.12, 0.16, 0.13, 0.14, 0.18, 0.1]
E_070 = [0.05, 0.05, 0.1, 0.08, 0.06, 0.06, 0.06, 0.06, 0.06, 0.05, 0.05, 0.05, 0.05, 0.05, 0.05, 0.05, 0.05, 0.05, 0.05, 0.05, 0.05, 0.05, 0.05, 0.05, 0.05, 0.05, 0.06, 0.06, 0.06, 0.06, 0.06, 0.07, 0.07, 0.07, 0.07, 0.08, 0.25, 0.2, 0.7, 0.15, 0.12, 0.08, 0.07, 0.07, 0.07, 0.07, 0.07, 0.08, 0.08, 0.1]
S_070 = [0.03, 0.03, 0.03, 0.03, 0.03, 0.03, 0.03, 0.03, 0.03, 0.03, 0.035, 0.035, 0.04, 0.04, 0.045, 0.05, 0.06, 0.065, 0.07, 0.07, 0.065, 0.06, 0.055, 0.05, 0.05, 0.045, 0.04, 0.04, 0.04, 0.04, 0.04, 0.04, 0.035, 0.04, 0.08, 0.3, 0.53, 0.2, 0.1, 0.08, 0.06, 0.04, 0.03, 0.04, 0.045, 0.035, 0.03, 0.035, 0.06, 0.09]
M_070 = [0.085, 0.05, 0.0, -0.06, -0.14, -0.19, -0.17, -0.12, -0.06, 0.0, 0.03, 0.07, 0.08, 0.09, 0.1, 0.13, 0.2, 0.23, 0.18, 0.14, 0.15, 0.16, 0.18, 0.19, 0.16, 0.13, 0.11, 0.1, 0.1, 0.11, 0.14, 0.16, 0.17, 0.17, 0.17]

# ---- Q2 = 0.84 ----
A_084 = [0.02, 0.0, -0.05, -0.1, -0.14, -0.15, -0.08, -0.13, -0.05, 0.02, -0.01, 0.06, 0.07, 0.1, 0.11, 0.09, 0.05, 0.12, 0.11, 0.24, 0.15, 0.17, 0.11, 0.15, 0.15, 0.17, 0.11, 0.13, 0.1, 0.15, 0.27, 0.04, -0.06, 0.1, 0.0, 0.1, 0.09, 0.11, 0.11, 0.05, -0.03, 0.06, 0.06, 0.13, 0.04, 0.22, 0.23]
E_084 = [0.04, 0.04, 0.04, 0.045, 0.045, 0.045, 0.045, 0.045, 0.045, 0.04, 0.04, 0.04, 0.04, 0.04, 0.045, 0.045, 0.045, 0.05, 0.05, 0.06, 0.06, 0.06, 0.06, 0.07, 0.07, 0.07, 0.07, 0.08, 0.08, 0.08, 0.28, 0.22, 0.12, 0.1, 0.08, 0.08, 0.08, 0.08, 0.07, 0.07, 0.08, 0.08, 0.08, 0.08, 0.1, 0.25, 0.13]
S_084 = [0.02, 0.02, 0.02, 0.02, 0.02, 0.025, 0.025, 0.025, 0.025, 0.025, 0.025, 0.025, 0.03, 0.03, 0.03, 0.03, 0.035, 0.035, 0.035, 0.04, 0.04, 0.035, 0.035, 0.035, 0.03, 0.035, 0.19, 0.19, 0.19, 0.19, 0.19, 0.035, 0.03, 0.03, 0.03, 0.03, 0.03, 0.03, 0.03, 0.03, 0.03, 0.025, 0.025, 0.05, 0.09, 0.14, 0.2]
M_084 = [0.05, 0.03, -0.02, -0.08, -0.13, -0.15, -0.13, -0.08, -0.03, 0.0, 0.03, 0.06, 0.09, 0.11, 0.12, 0.14, 0.2, 0.22, 0.18, 0.16, 0.16, 0.17, 0.19, 0.2, 0.18, 0.15, 0.13, 0.12, 0.11, 0.12, 0.13, 0.16, 0.18, 0.18, 0.18]

GRID = [
    [("0.012", A_0012, E_0012, S_0012, M_0012), ("0.029", A_0029, E_0029, S_0029, M_0029),
     ("0.070", A_0070, E_0070, S_0070, M_0070), ("0.17", A_017, E_017, S_017, M_017),
     ("0.41", A_041, E_041, S_041, M_041)],
    [("0.014", A_0014, E_0014, S_0014, M_0014), ("0.035", A_0035, E_0035, S_0035, M_0035),
     ("0.084", A_0084, E_0084, S_0084, M_0084), ("0.20", A_020, E_020, S_020, M_020),
     ("0.49", A_049, E_049, S_049, M_049)],
    [("0.017", A_0017, E_0017, S_0017, M_0017), ("0.041", A_0041, E_0041, S_0041, M_0041),
     ("0.100", A_0100, E_0100, S_0100, M_0100), ("0.24", A_024, E_024, S_024, M_024),
     ("0.59", A_059, E_059, S_059, M_059)],
    [("0.020", A_0020, E_0020, S_0020, M_0020), ("0.049", A_0049, E_0049, S_0049, M_0049),
     ("0.12", A_012, E_012, S_012, M_012), ("0.29", A_029, E_029, S_029, M_029),
     ("0.70", A_070, E_070, S_070, M_070)],
    [("0.024", A_0024, E_0024, S_0024, M_0024), ("0.059", A_0059, E_0059, S_0059, M_0059),
     ("0.14", A_014, E_014, S_014, M_014), ("0.35", A_035, E_035, S_035, M_035),
     ("0.84", A_084, E_084, S_084, M_084)],
]

Y_RANGES = [[-0.99, 0.49], [-0.82, 0.49], [-0.82, 0.49], [-0.82, 0.49], [-0.82, 0.49]]
X_RANGE = [1.10, 2.10]
Y_TICKS = [-0.5, 0.0]
Y_TICKTEXT = ["\u22120.5", "0.0"]

# ---------------- figure ----------------
SERIF = "DejaVu Serif"
fig = make_subplots(rows=5, cols=5, horizontal_spacing=0, vertical_spacing=0)

for r in range(5):
    for c in range(5):
        lab, A, E, S, M = GRID[r][c]
        base = Y_RANGES[r][0] + 0.085
        n = min(len(A), len(E), len(S), len(W_BINS))
        w = W_BINS[:n]
        top = [base + s for s in S[:n]]
        # systematic band
        fig.add_trace(go.Scatter(
            x=w + w[::-1], y=top + [base] * n, fill="toself", fillcolor="green",
            mode="lines", line=dict(width=0, color="green"), hoverinfo="skip",
            showlegend=False), row=r + 1, col=c + 1)
        # model curve
        fig.add_trace(go.Scatter(
            x=CURVE_W[:len(M)], y=M, mode="lines",
            line=dict(color="rgba(100,149,237,0.85)", width=1.4, shape="spline", smoothing=0.9),
            hoverinfo="skip", showlegend=False), row=r + 1, col=c + 1)
        # data points
        fig.add_trace(go.Scatter(
            x=w, y=A[:n], mode="markers",
            marker=dict(color="rgba(255,40,40,0.6)", size=4.8, line=dict(width=0)),
            error_y=dict(type="data", array=E[:n], color="rgba(255,70,70,0.35)",
                         thickness=1.6, width=0),
            showlegend=False), row=r + 1, col=c + 1)
        fig.add_hline(y=0, line=dict(color="black", width=1), layer="below",
                      row=r + 1, col=c + 1)
        idx = r * 5 + c + 1
        sfx = "" if idx == 1 else str(idx)
        fig.add_annotation(
            xref="x%s domain" % sfx, yref="y%s domain" % sfx, x=0.975, y=0.975,
            xanchor="right", yanchor="top", showarrow=False,
            text="<i>Q</i><sup>2</sup> = " + lab,
            font=dict(family=SERIF, size=18, color="black"))
        fig.update_xaxes(
            range=X_RANGE, showline=True, mirror=True, linecolor="black", linewidth=1.5,
            ticks="inside", ticklen=5, tickwidth=1, tickcolor="black",
            tickmode="linear", tick0=1.2, dtick=0.2, tickformat=".1f",
            minor=dict(ticks="inside", ticklen=5, tickwidth=1, tickcolor="black",
                       tickmode="linear", tick0=1.1, dtick=0.1, showgrid=False),
            showgrid=False, zeroline=False, showticklabels=(r == 4),
            tickfont=dict(family=SERIF, size=16, color="black"),
            row=r + 1, col=c + 1)
        fig.update_yaxes(
            range=Y_RANGES[r], showline=True, mirror=True, linecolor="black", linewidth=1.5,
            ticks="inside", ticklen=7, tickwidth=1, tickcolor="black",
            tickmode="array", tickvals=Y_TICKS, ticktext=Y_TICKTEXT,
            minor=dict(ticks="inside", ticklen=4, tickwidth=1, tickcolor="black",
                       tickmode="linear", tick0=0.0, dtick=0.1, showgrid=False),
            showgrid=False, zeroline=False, showticklabels=(c == 0),
            tickfont=dict(family=SERIF, size=16, color="black"),
            row=r + 1, col=c + 1)

fig.add_annotation(xref="paper", yref="paper", x=0.5105, y=-0.058, xanchor="center",
                   yanchor="middle", showarrow=False, text="W (GeV)",
                   font=dict(family=SERIF, size=28, color="black"))
fig.add_annotation(xref="paper", yref="paper", x=-0.063, y=0.5, xanchor="center",
                   yanchor="middle", showarrow=False, textangle=-90,
                   text="<i>A</i><sub>1</sub><sup><i>p</i></sup><i>F</i><sub>1</sub><sup><i>p</i></sup>",
                   font=dict(family=SERIF, size=31, color="black"))

fig.update_layout(width=1040, height=781, margin=dict(l=91, r=1, t=3, b=57),
                  paper_bgcolor="white", plot_bgcolor="white", showlegend=False)

fig.write_html("out.html", config={"displayModeBar": False},
               post_script="document.body.style.margin='0';document.body.style.overflow='hidden';")
